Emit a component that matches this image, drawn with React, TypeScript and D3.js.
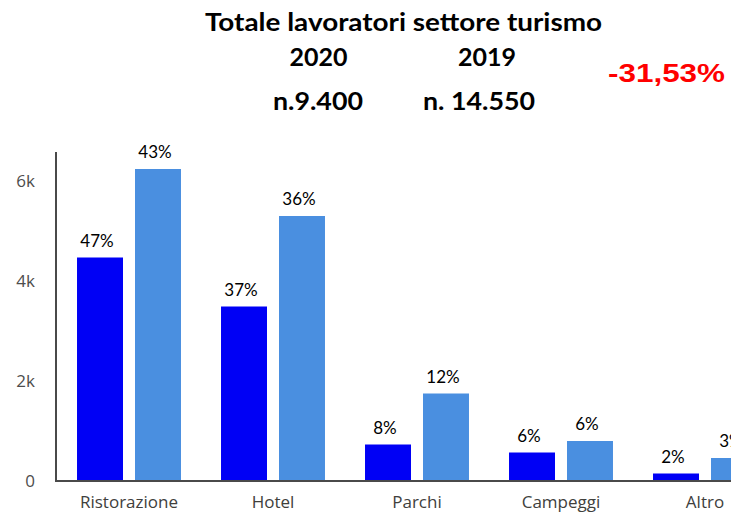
import React from "react";
import * as d3 from "d3";

const categories = ["Ristorazione", "Hotel", "Parchi", "Campeggi", "Altro"];
const series = ["2020", "2019"];
const values2020 = [4470, 3490, 730, 570, 150];
const values2019 = [6240, 5300, 1750, 800, 460];
const pct2020 = ["47%", "37%", "8%", "6%", "2%"];
const pct2019 = ["43%", "36%", "12%", "6%", "3%"];
const yTicks = [0, 2000, 4000, 6000];
const yTickLabels = ["0", "2k", "4k", "6k"];
const title = "Totale lavoratori settore turismo";
const yearLabels = ["2020", "2019"];
const totalLabels = ["n.9.400", "n. 14.550"];
const changeLabel = "-31,53%";

const W = 731;
const H = 513;
const colors = ["#0000f5", "#4a8fe0"];

export default function App() {
  const x = d3
    .scaleBand<string>()
    .domain(categories)
    .range([57, 777])
    .paddingInner(0.278)
    .paddingOuter(0.139);
  const xs = d3
    .scaleBand<string>()
    .domain(series)
    .range([0, x.bandwidth()])
    .paddingInner(0.207)
    .paddingOuter(0);
  const y = d3.scaleLinear().domain([0, 6580]).range([481, 152]);

  const data = categories.map((c, i) => ({
    cat: c,
    bars: [
      { s: series[0], v: values2020[i], p: pct2020[i] },
      { s: series[1], v: values2019[i], p: pct2019[i] },
    ],
  }));

  const labelFont = "Lato, 'Open Sans', sans-serif";
  const axisFont = "'Open Sans', 'Noto Sans', sans-serif";

  return (
    <svg
      width={W}
      height={H}
      style={{ position: "absolute", left: 0, top: 0, background: "#fff" }}
    >
      <rect x={0} y={0} width={W} height={H} fill="#fff" />
      {/* header */}
      <text
        x={205}
        y={31}
        fontFamily={labelFont}
        fontWeight={700}
        fontSize={24}
        textLength={397}
        lengthAdjust="spacingAndGlyphs"
        fill="#000"
      >
        {title}
      </text>
      <text x={318.5} y={66} textAnchor="middle" fontFamily={labelFont} fontWeight={700} fontSize={25} fill="#000">
        {yearLabels[0]}
      </text>
      <text x={487} y={66} textAnchor="middle" fontFamily={labelFont} fontWeight={700} fontSize={25} fill="#000">
        {yearLabels[1]}
      </text>
      <text x={273} y={110} fontFamily={labelFont} fontWeight={700} fontSize={25} textLength={90} lengthAdjust="spacingAndGlyphs" fill="#000">
        {totalLabels[0]}
      </text>
      <text x={423} y={110} fontFamily={labelFont} fontWeight={700} fontSize={25} textLength={112} lengthAdjust="spacingAndGlyphs" fill="#000">
        {totalLabels[1]}
      </text>
      <text
        x={608}
        y={82}
        fontFamily="'Liberation Sans', Arial, sans-serif"
        fontWeight={700}
        fontSize={26}
        textLength={117}
        lengthAdjust="spacingAndGlyphs"
        fill="#ff0000"
      >
        {changeLabel}
      </text>

      {/* bars */}
      {data.map((d) => (
        <g key={d.cat} transform={`translate(${x(d.cat)},0)`}>
          {d.bars.map((b, j) => (
            <g key={b.s}>
              <rect
                x={xs(b.s)}
                y={y(b.v)}
                width={xs.bandwidth()}
                height={y(0) - y(b.v)}
                fill={colors[j]}
              />
              <text
                x={(xs(b.s) as number) + xs.bandwidth() / 2 - 3}
                y={y(b.v) - 11}
                textAnchor="middle"
                fontFamily={labelFont}
                fontSize={17}
                fill="#000"
              >
                {b.p}
              </text>
            </g>
          ))}
        </g>
      ))}

      {/* axes */}
      <line x1={56} x2={56} y1={152} y2={482} stroke="#4a4a4a" strokeWidth={2} />
      <line x1={55} x2={W} y1={481} y2={481} stroke="#4a4a4a" strokeWidth={2} />
      {yTicks.map((t, i) => (
        <text
          key={t}
          x={35}
          y={y(t)}
          dy="0.38em"
          textAnchor="end"
          fontFamily={axisFont}
          fontSize={17}
          fill="#4d4d4d"
        >
          {yTickLabels[i]}
        </text>
      ))}
      {categories.map((c) => (
        <text
          key={c}
          x={(x(c) as number) + x.bandwidth() / 2}
          y={508}
          textAnchor="middle"
          fontFamily={axisFont}
          fontSize={17}
          fill="#40403c"
        >
          {c}
        </text>
      ))}
    </svg>
  );
}
